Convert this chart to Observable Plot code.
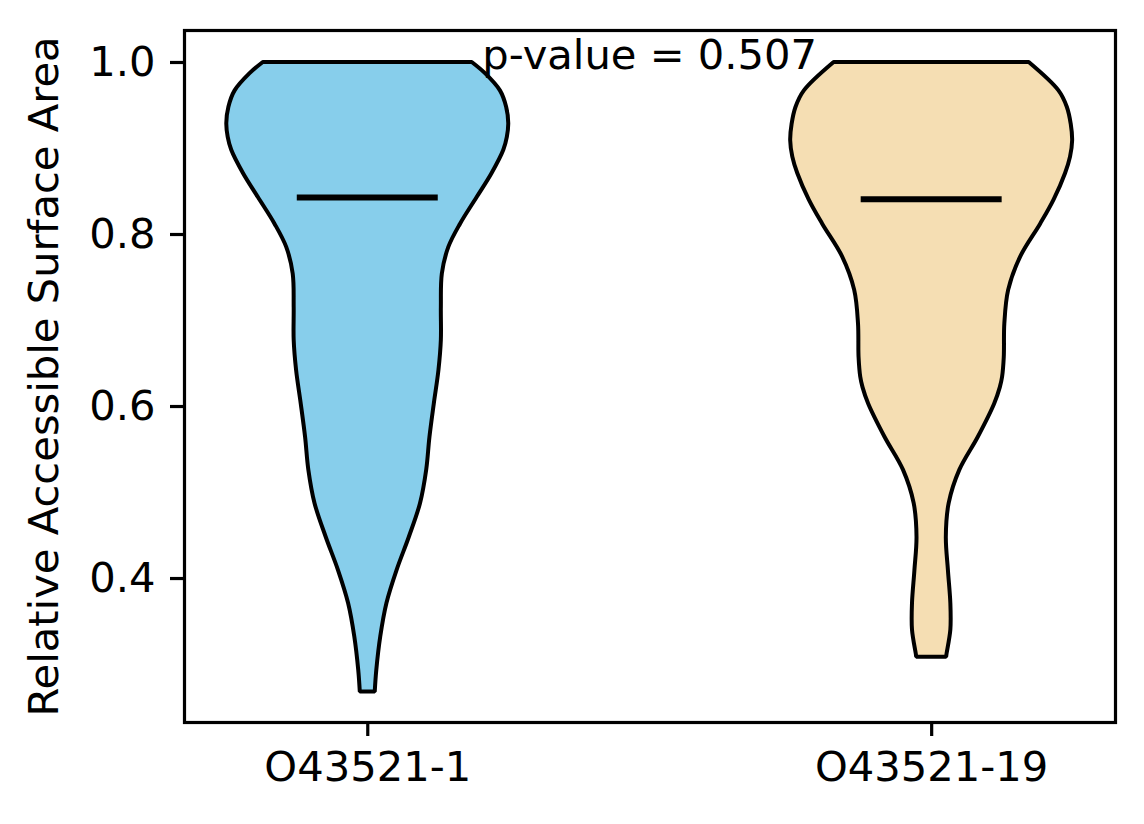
<!DOCTYPE html>
<html>
<head>
<meta charset="utf-8">
<script src="https://cdn.jsdelivr.net/npm/d3@7"></script>
<script src="https://cdn.jsdelivr.net/npm/@observablehq/plot@0.6"></script>
<style>
  html, body { margin: 0; padding: 0; background: white; }
  #chart svg { display: block; }
</style>
</head>
<body>
<div id="chart"></div>
<script>
// ---- data ----
const categories = ["O43521-1", "O43521-19"];
const positions = [1, 2];
const colors = ["#87CEEB", "#F5DEB3"];
const yTicks = [0.4, 0.6, 0.8, 1.0];
const pValue = 0.507;
const medians = [0.843, 0.841];

// violin outline: y values (top to bottom) and relative half-width (1 = widest)
const violin1Y = [1.0, 0.987, 0.967, 0.948, 0.929, 0.913, 0.898, 0.871, 0.843, 0.812, 0.785, 0.754, 0.715, 0.677, 0.642, 0.603, 0.564, 0.526, 0.487, 0.448, 0.409, 0.371, 0.332, 0.293, 0.268];
const violin1W = [0.741, 0.835, 0.941, 0.985, 1.0, 0.99, 0.965, 0.882, 0.776, 0.658, 0.575, 0.529, 0.522, 0.522, 0.505, 0.472, 0.441, 0.418, 0.374, 0.295, 0.207, 0.136, 0.092, 0.064, 0.053];

const violin2Y = [1.0, 0.967, 0.948, 0.928, 0.909, 0.890, 0.871, 0.840, 0.812, 0.774, 0.735, 0.696, 0.657, 0.634, 0.622, 0.603, 0.564, 0.526, 0.487, 0.448, 0.409, 0.371, 0.340, 0.312, 0.3085];
const violin2W = [0.692, 0.903, 0.962, 0.99, 1.0, 0.985, 0.950, 0.868, 0.773, 0.632, 0.546, 0.519, 0.515, 0.503, 0.487, 0.447, 0.330, 0.200, 0.124, 0.104, 0.119, 0.136, 0.136, 0.109, 0.106];

const violinWidth = 0.5; // full width in x units (matplotlib default)

// ---- build tables ----
const outlines = [[violin1Y, violin1W], [violin2Y, violin2W]];
const points = [];
outlines.forEach(([ys, ws], i) => {
  ys.forEach((y, j) => points.push({cat: categories[i], pos: positions[i], y, w: ws[j]}));
});
const medianRows = medians.map((m, i) => ({cat: categories[i], pos: positions[i], m}));
const half = violinWidth / 2;
const FS = 41.67;

const chart = Plot.plot({
  width: 1144,
  height: 824,
  marginLeft: 184,
  marginRight: 29,
  marginTop: 30,
  marginBottom: 102,
  style: {fontFamily: "DejaVu Sans", fontSize: FS + "px", background: "white", color: "black"},
  x: {domain: [0.675, 2.326]},
  y: {domain: [0.2326, 1.0372]},
  color: {domain: categories, range: colors},
  marks: [
    Plot.areaX(points, {
      y: "y",
      x1: d => d.pos - d.w * half,
      x2: d => d.pos + d.w * half,
      fill: "cat",
      z: "cat",
      stroke: "black",
      strokeWidth: 4,
      strokeLinejoin: "miter",
      curve: "catmull-rom"
    }),
    Plot.ruleY(medianRows, {
      y: "m",
      x1: d => d.pos - half / 2,
      x2: d => d.pos + half / 2,
      stroke: "black",
      strokeWidth: 6
    }),
    Plot.axisX({
      ticks: positions,
      tickFormat: d => categories[positions.indexOf(d)],
      tickSize: 14,
      tickPadding: 15,
      strokeWidth: 3.2,
      fontSize: FS,
      label: null
    }),
    Plot.axisY({
      ticks: yTicks,
      tickFormat: d3.format(".1f"),
      tickSize: 14,
      tickPadding: 15,
      strokeWidth: 3.2,
      fontSize: FS,
      label: "Relative Accessible Surface Area",
      labelAnchor: "center",
      labelArrow: "none",
      labelOffset: 156
    }),
    Plot.frame({stroke: "black", strokeWidth: 3.2}),
    Plot.text([pValue], {
      x: () => d3.mean(positions),
      y: () => d3.max(points, d => d.y),
      text: d => `p-value = ${d.toFixed(3)}`,
      textAnchor: "middle",
      lineAnchor: "bottom",
      dy: 7,
      fontSize: FS,
      fill: "black"
    })
  ]
});
document.getElementById("chart").appendChild(chart);
</script>
</body>
</html>
